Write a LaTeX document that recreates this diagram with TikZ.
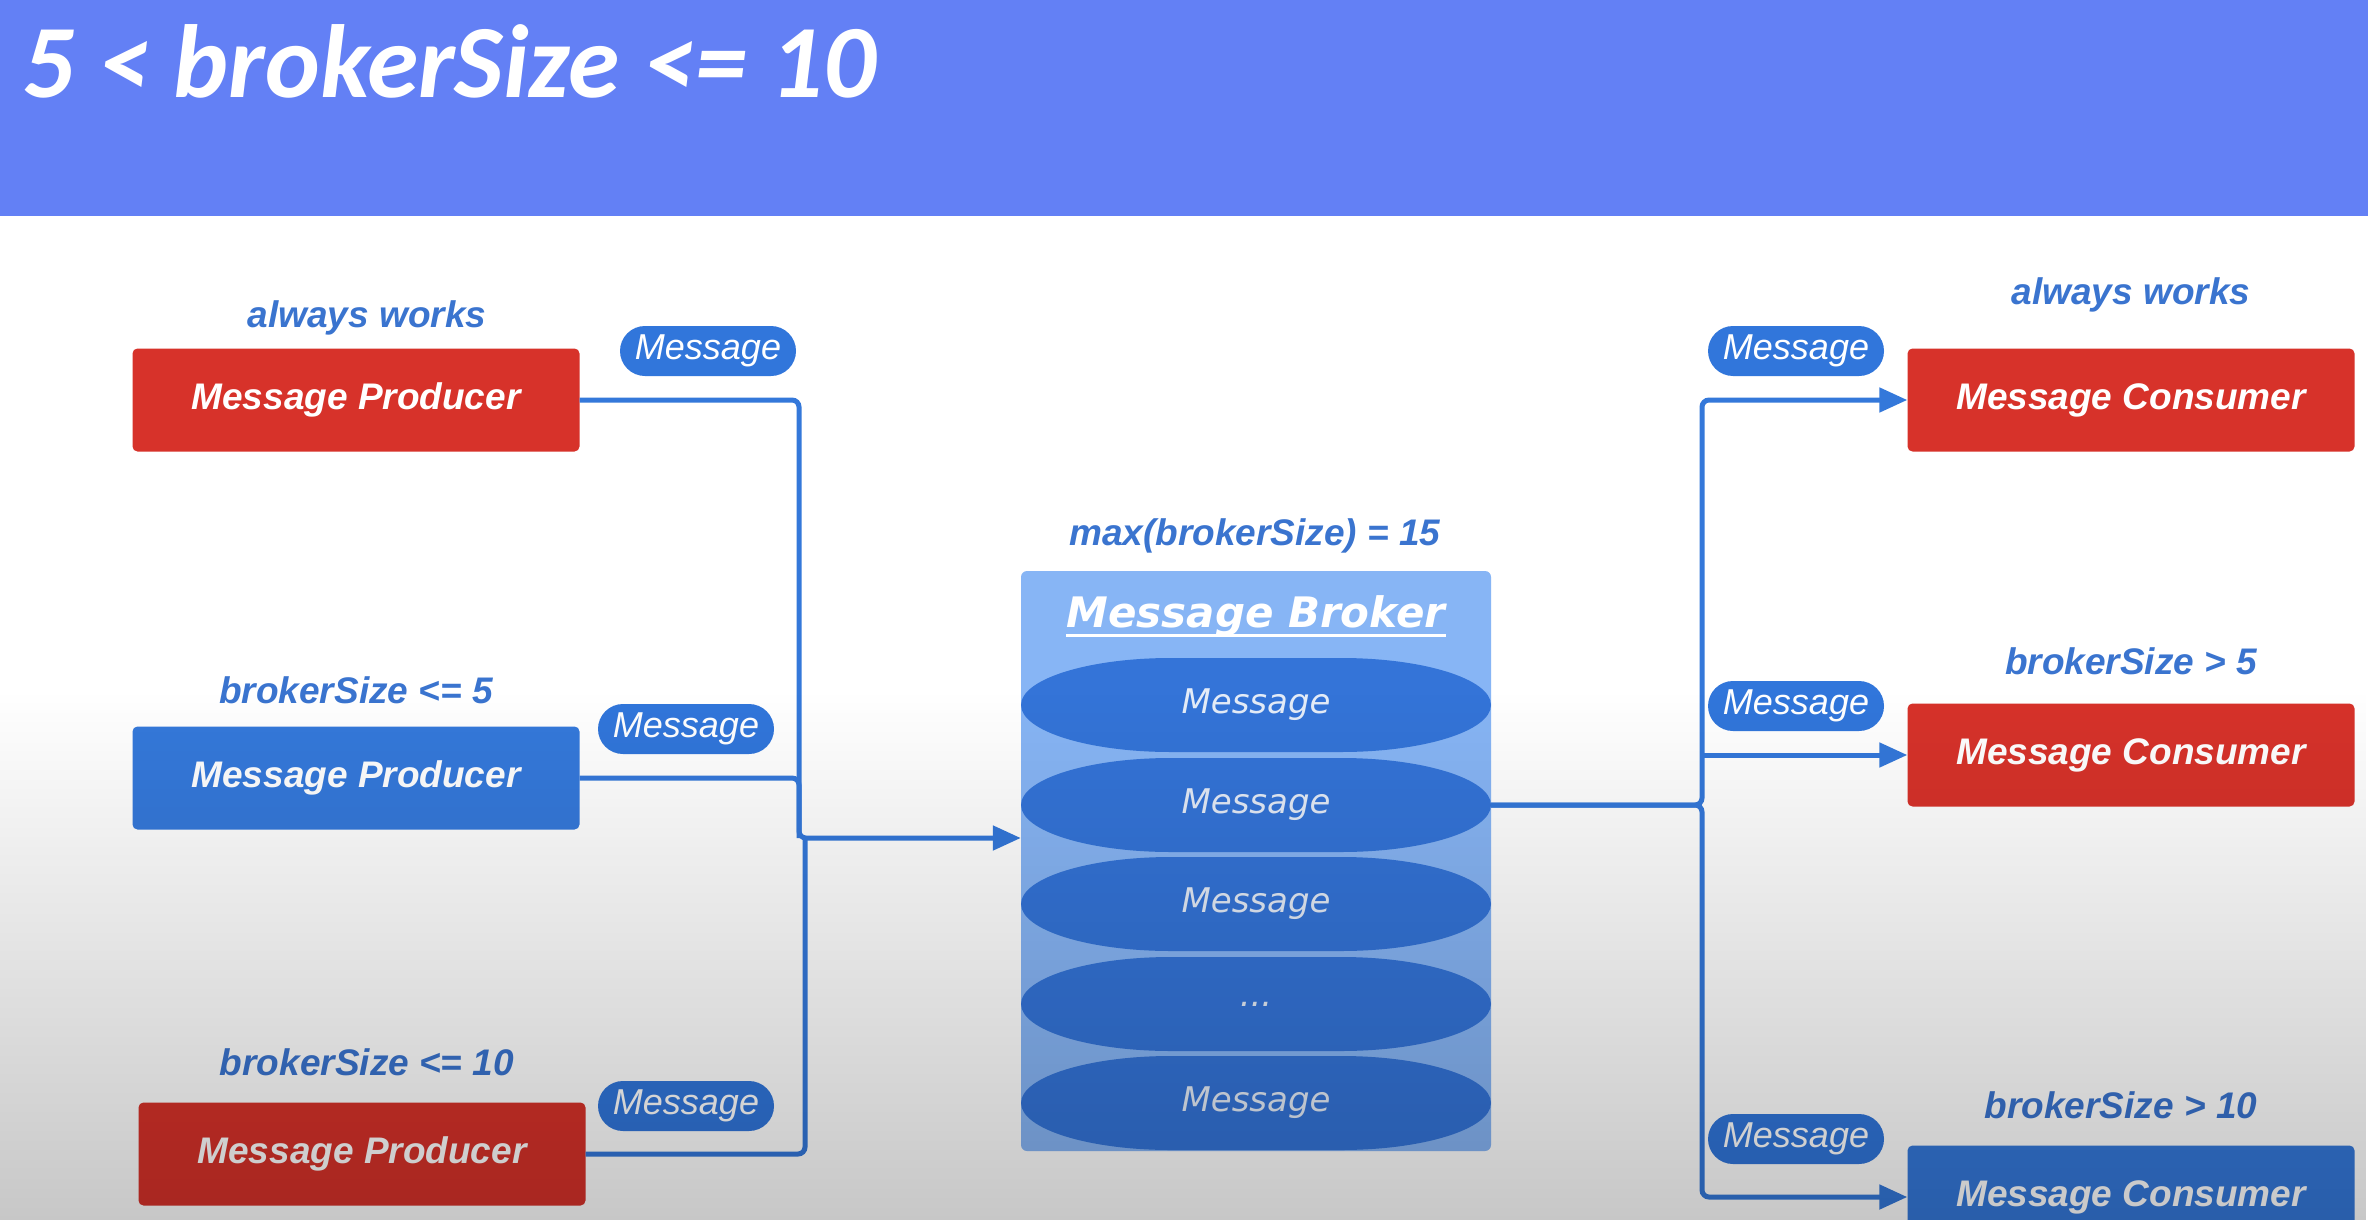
\documentclass[tikz,border=0pt]{standalone}
\usepackage{fontspec}
\setmainfont{Liberation Sans}
\newfontfamily\titlefont{Carlito}
\newfontfamily\vfont{DejaVu Sans}
\usetikzlibrary{arrows.meta,fadings}

\definecolor{headblue}{HTML}{6380F5}
\definecolor{boxred}{HTML}{D7322A}
\definecolor{boxblue}{HTML}{3579DB}
\definecolor{lblblue}{HTML}{3A74CF}
\definecolor{pillblue}{HTML}{3176DB}
\definecolor{lineblue}{HTML}{3478DA}
\definecolor{brokerbg}{HTML}{87B5F5}
\definecolor{msgblue}{HTML}{3474D8}
\definecolor{msgtext}{HTML}{E4ECF8}

\tikzfading[name=darkdown, top color=transparent!100, bottom color=transparent!0]

% a flat capsule with elliptical ends, 470 wide and 94 high, centred on #1
\newcommand\capsulefill[1]{%
  \fill[msgblue, shift={(#1)}] (-85,-47) -- (85,-47)
    arc[start angle=90, end angle=-90, x radius=150pt, y radius=47pt]
    -- (-85,47)
    arc[start angle=270, end angle=90, x radius=150pt, y radius=47pt] -- cycle;}

\begin{document}
\begin{tikzpicture}[x=1pt,y=-1pt,
  box/.style={rectangle, rounded corners=5pt, minimum width=447pt, minimum height=103pt,
    inner sep=0pt, text=white, font=\bfseries\itshape\fontsize{37}{44}\selectfont},
  pill/.style={rectangle, rounded corners=25pt, fill=pillblue, minimum width=176pt,
    minimum height=50pt, inner sep=0pt, text=white, font=\itshape\fontsize{36}{40}\selectfont},
  lbl/.style={anchor=base, text=lblblue, inner sep=0pt, font=\bfseries\itshape\fontsize{37}{44}\selectfont},
  msg/.style={rectangle, minimum width=470pt, minimum height=94pt, inner sep=0pt,
    text=msgtext, font=\vfont\itshape\fontsize{34}{40}\selectfont},
  conn/.style={draw=lineblue, line width=5pt, rounded corners=7pt},
  tip/.style={-{Triangle[length=28pt,width=24pt]}}
]
\useasboundingbox (0,0) rectangle (2368,1220);
\fill[white] (0,0) rectangle (2368,1220);

% header band
\fill[headblue] (0,0) rectangle (2368,216);
\node[anchor=base west, inner sep=0pt, text=white,
  font=\titlefont\bfseries\itshape\fontsize{104}{110}\selectfont] (title) at (22,98)
  {5 < brokerSize <= 10};

% producers
\node[box, fill=boxred]  (p1) at (356,400)  {Message Producer};
\node[box, fill=boxblue] (p2) at (356,778)  {Message Producer};
\node[box, fill=boxred]  (p3) at (362,1154) {Message Producer};
\node[lbl] (lp1) at (367,327)  {always works};
\node[lbl] (lp2) at (356,703)  {brokerSize <= 5};
\node[lbl] (lp3) at (367,1075) {brokerSize <= 10};

% consumers
\node[box, fill=boxred]  (c1) at (2131,400)  {Message Consumer};
\node[box, fill=boxred]  (c2) at (2131,755)  {Message Consumer};
\node[box, fill=boxblue] (c3) at (2131,1197) {Message Consumer};
\node[lbl] (lc1) at (2131,304)  {always works};
\node[lbl] (lc2) at (2131,674)  {brokerSize > 5};
\node[lbl] (lc3) at (2121,1118) {brokerSize > 10};

% broker
\node[lbl] (cap) at (1255,545) {max(brokerSize) = 15};
\node[rectangle, rounded corners=6pt, fill=brokerbg, minimum width=470pt,
  minimum height=580pt, inner sep=0pt] (bk) at (1256,861) {};
\node[anchor=base, inner sep=0pt, text=white,
  font=\vfont\bfseries\itshape\fontsize{42}{48}\selectfont] (bkt) at (1256,627) {Message Broker};
\draw[white, line width=3pt] ([yshift=-8pt]bkt.base west) -- ([yshift=-8pt]bkt.base east);
\capsulefill{1256,705}
\capsulefill{1256,805}
\capsulefill{1256,904}
\capsulefill{1256,1004}
\capsulefill{1256,1103}
\node[msg] (m1) at (1256,705)  {Message};
\node[msg] (m2) at (1256,805)  {Message};
\node[msg] (m3) at (1256,904)  {Message};
\node[msg] (m4) at (1256,1004) {...};
\node[msg] (m5) at (1256,1103) {Message};

% joints of the connectors
\coordinate (jl) at (799,838);
\coordinate (jb) at (805,838);
\coordinate (jr) at (1702,805);

% producers into the broker
\draw[conn, tip] (p1.east) -| (jl) -- (jl -| bk.west);
\draw[conn] (p2.east) -| (jl);
\draw[conn] (p3.east) -| (jb);

% broker out to the consumers
\draw[conn, tip] (m2.east) -- (jr) |- (c1.west);
\draw[conn, tip] (m2.east) -- (jr) |- (c3.west);
\draw[conn, tip] (jr |- c2.west) -- (c2.west);

% message tags on the connectors
\node[pill] (t1) at (708,351)   {Message};
\node[pill] (t2) at (686,729)   {Message};
\node[pill] (t3) at (686,1106)  {Message};
\node[pill] (t4) at (1796,351)  {Message};
\node[pill] (t5) at (1796,706)  {Message};
\node[pill] (t6) at (1796,1139) {Message};

% darkening towards the bottom
\fill[black, opacity=0.22, path fading=darkdown] (0,690) rectangle (2368,1220);
\end{tikzpicture}
\end{document}
